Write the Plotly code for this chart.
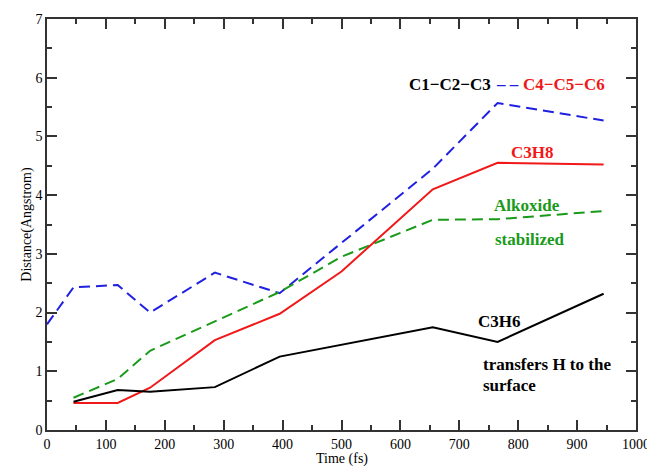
import plotly.graph_objects as go

time_fs = [45, 120, 175, 285, 395, 500, 655, 765, 945]
blue_x = [0, 45, 120, 175, 285, 395, 655, 765, 945]
c_chain = [1.80, 2.43, 2.47, 2.00, 2.68, 2.33, 4.45, 5.57, 5.27]
c3h8 = [0.46, 0.46, 0.72, 1.53, 1.98, 2.70, 4.10, 4.55, 4.52]
alkoxide = [0.55, 0.87, 1.35, 1.85, 2.35, 2.95, 3.58, 3.59, 3.73]
c3h6 = [0.48, 0.68, 0.65, 0.73, 1.25, 1.45, 1.75, 1.50, 2.32]

x_ticks = [0, 100, 200, 300, 400, 500, 600, 700, 800, 900, 1000]
y_ticks = [0, 1, 2, 3, 4, 5, 6, 7]

FONT = "Liberation Serif, Times New Roman, DejaVu Serif, serif"

fig = go.Figure()
fig.add_trace(go.Scatter(x=blue_x, y=c_chain, mode="lines",
                         line=dict(color="#2020e0", width=2, dash="11px,6px")))
fig.add_trace(go.Scatter(x=time_fs, y=alkoxide, mode="lines",
                         line=dict(color="#1a9a1a", width=2, dash="11px,6px")))
fig.add_trace(go.Scatter(x=time_fs, y=c3h8, mode="lines",
                         line=dict(color="#f01818", width=2)))
fig.add_trace(go.Scatter(x=time_fs, y=c3h6, mode="lines",
                         line=dict(color="black", width=2)))

def ann(text, x, y, color, xanchor="center"):
    fig.add_annotation(text=text, x=x, y=y, xref="x", yref="y", showarrow=False,
                       xanchor=xanchor, yanchor="middle",
                       font=dict(family=FONT, size=17, color=color))

ann("<b>C1\u2212C2\u2212C3</b>", 757, 5.88, "black", "right")
ann("<b>\u2013 \u2013</b>", 782, 5.88, "#2020e0")
ann("<b>C4\u2212C5\u2212C6</b>", 805, 5.88, "#f01818", "left")
ann("<b>C3H8</b>", 825, 4.72, "#f01818")
ann("<b>Alkoxide</b>", 815, 3.83, "#1a9a1a")
ann("<b>stabilized</b>", 820, 3.24, "#1a9a1a")
ann("<b>C3H6</b>", 769, 1.84, "black")
ann("<b>transfers H to the</b>", 737, 1.12, "black", "left")
ann("<b>surface</b>", 737, 0.75, "black", "left")

# x-axis title placed just below the tick labels
fig.add_annotation(text="Time (fs)", x=0.5, y=0, xref="paper", yref="paper",
                   showarrow=False, xanchor="center", yanchor="top", yshift=-20,
                   borderpad=0, font=dict(family=FONT, size=14, color="black"))

axis_common = dict(
    showline=True, linecolor="#333", linewidth=1.5, mirror="allticks",
    ticks="inside", ticklen=10, tickwidth=1.5, tickcolor="#333",
    showgrid=False, zeroline=False, automargin=False,
    tickfont=dict(family=FONT, size=14, color="black"),
)

fig.update_xaxes(range=[0, 1000], tickvals=x_ticks,
                 minor=dict(dtick=50, ticks="inside", ticklen=5, tickcolor="#333", tickwidth=1.5),
                 **axis_common)
fig.update_yaxes(range=[0, 7], tickvals=y_ticks,
                 minor=dict(dtick=0.5, ticks="inside", ticklen=5, tickcolor="#333", tickwidth=1.5),
                 title=dict(text="Distance(Angstrom)", font=dict(family=FONT, size=14, color="black"), standoff=0),
                 **axis_common)

# page body has an 8px margin, so the figure is sized to fit the 655x466 window
fig.update_layout(
    width=647, height=458,
    margin=dict(l=39, r=19, t=11, b=36),
    paper_bgcolor="white", plot_bgcolor="white",
    showlegend=False,
)

fig.write_html("out.html")
